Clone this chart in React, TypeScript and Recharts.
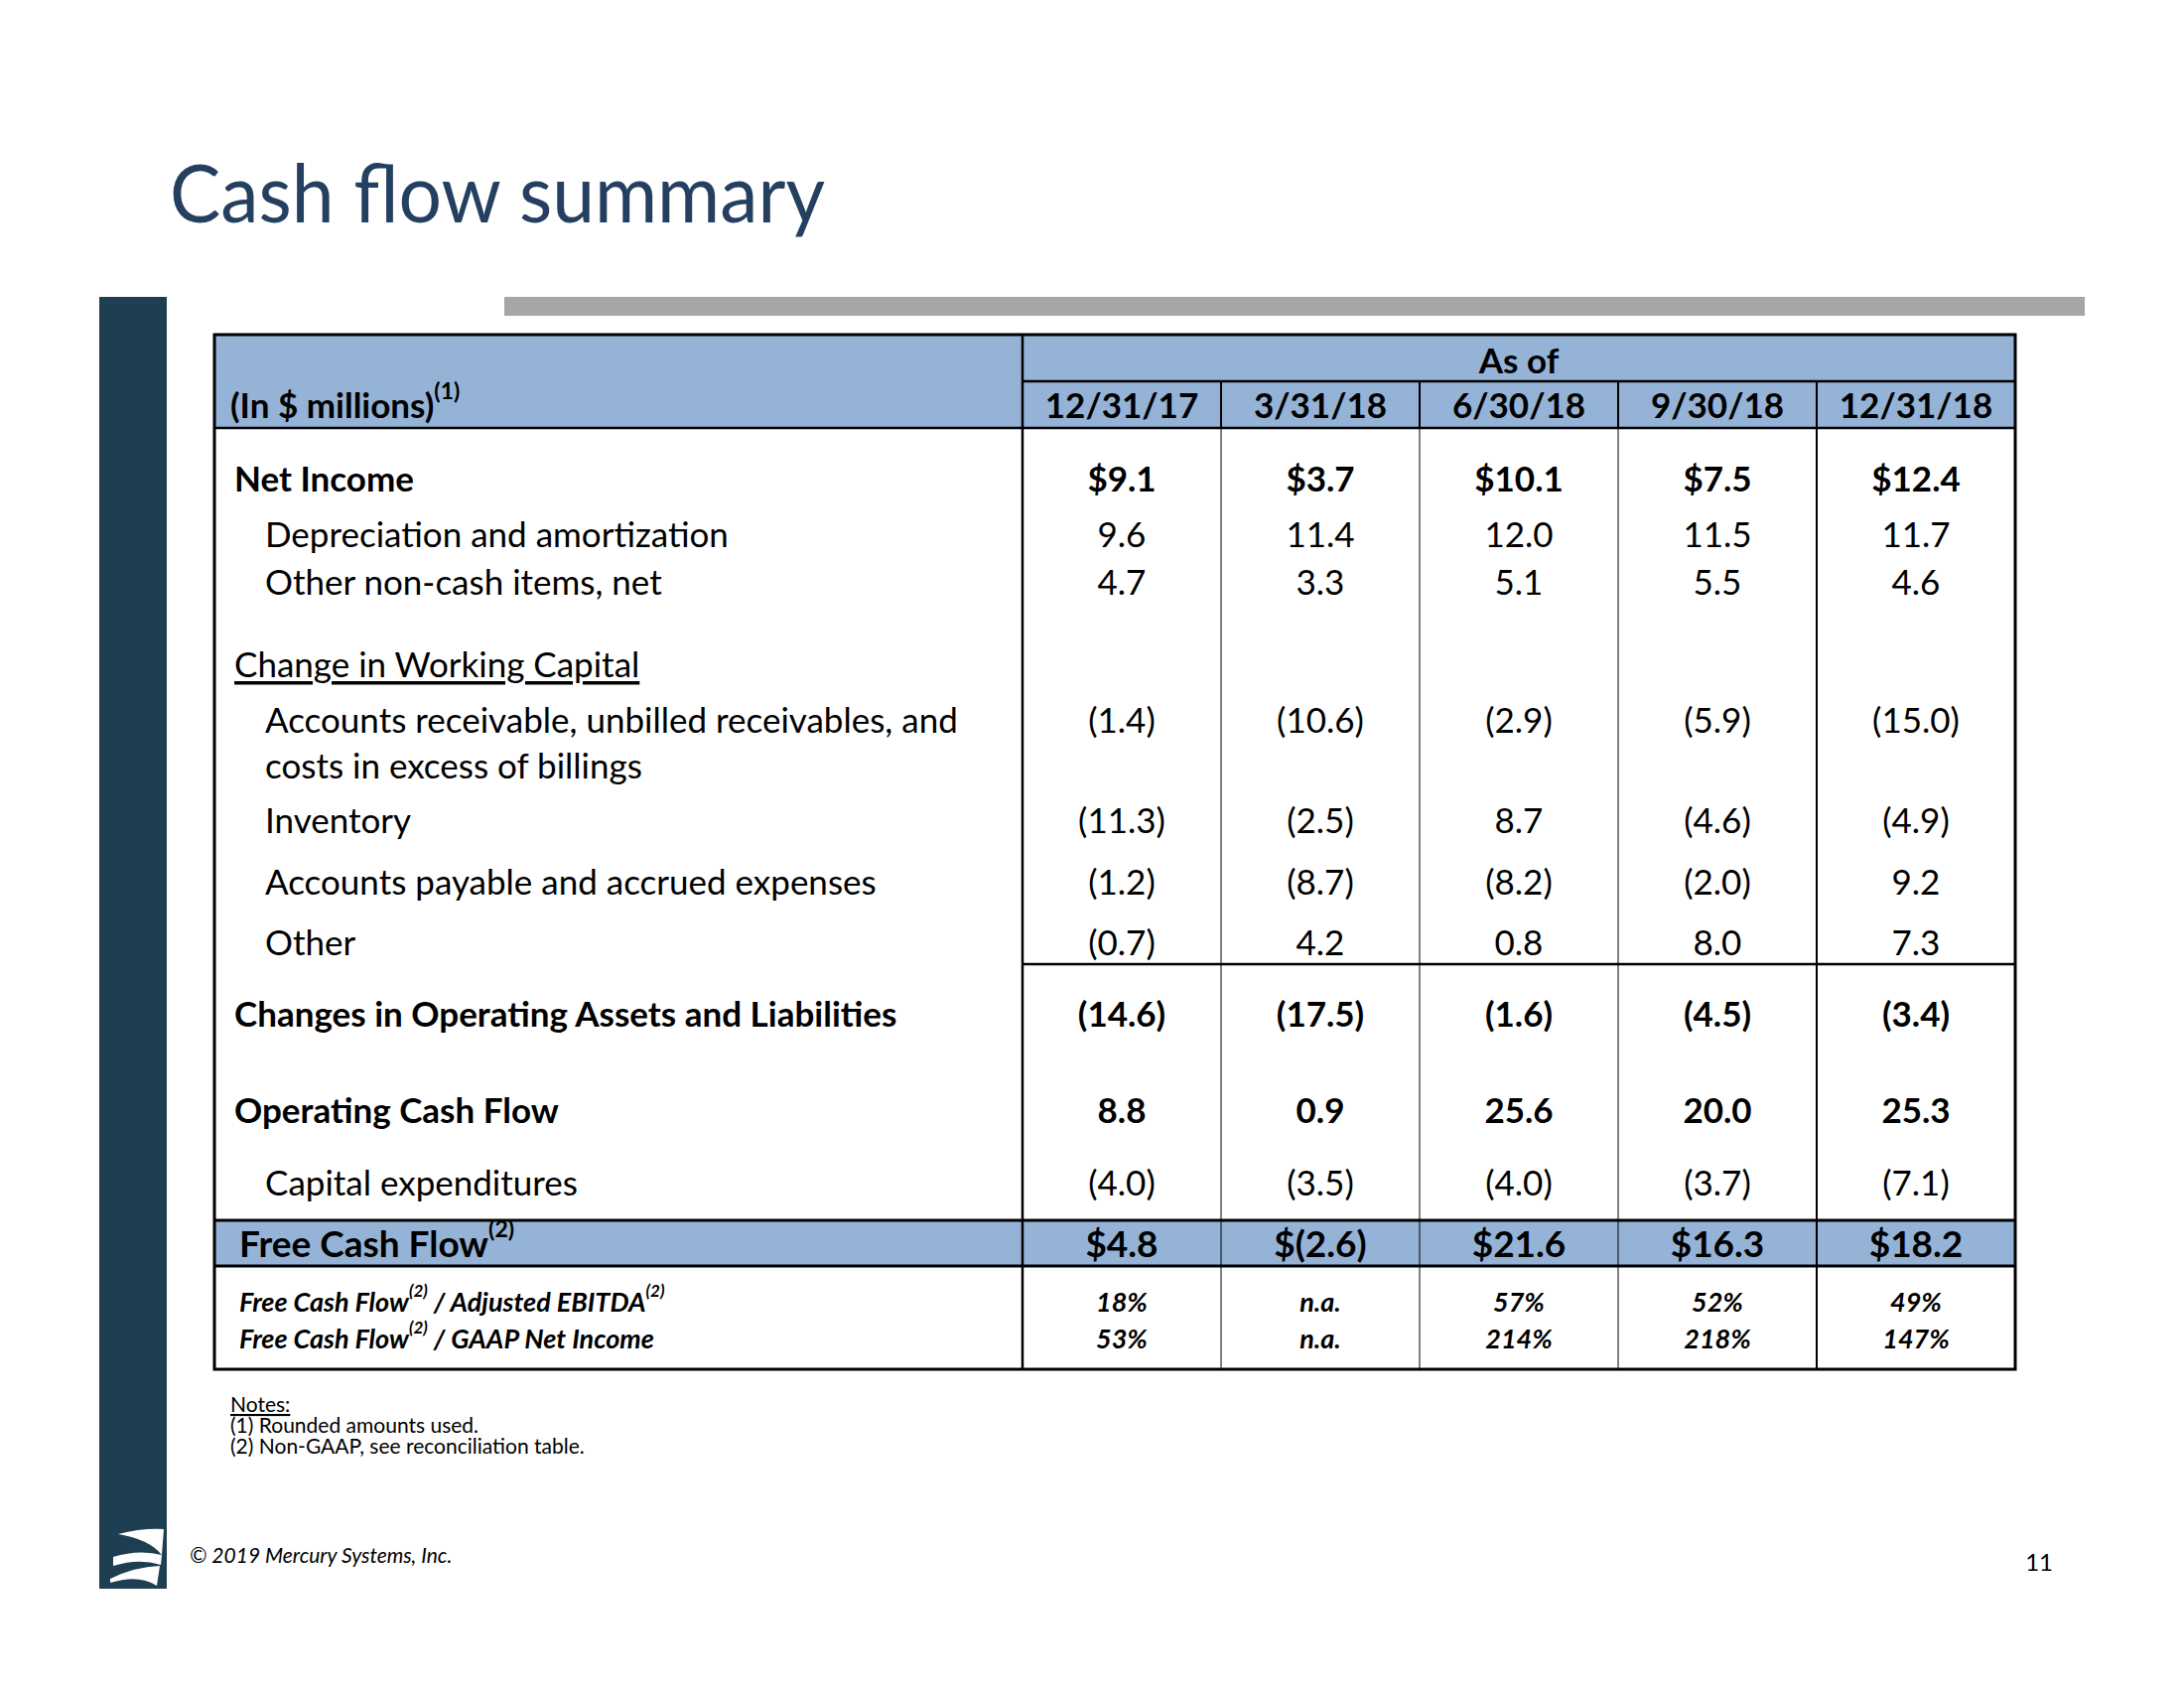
import { ScatterChart, Scatter, XAxis, YAxis, ReferenceLine } from "recharts";

// ---- data (in $ millions) ----
const DATES = ["12/31/17", "3/31/18", "6/30/18", "9/30/18", "12/31/18"];
const NET_INCOME = [9.1, 3.7, 10.1, 7.5, 12.4];
const DEPRECIATION = [9.6, 11.4, 12.0, 11.5, 11.7];
const OTHER_NON_CASH = [4.7, 3.3, 5.1, 5.5, 4.6];
const RECEIVABLES = [-1.4, -10.6, -2.9, -5.9, -15.0];
const INVENTORY = [-11.3, -2.5, 8.7, -4.6, -4.9];
const PAYABLES = [-1.2, -8.7, -8.2, -2.0, 9.2];
const OTHER_WC = [-0.7, 4.2, 0.8, 8.0, 7.3];
const CHANGES_OPERATING = [-14.6, -17.5, -1.6, -4.5, -3.4];
const OPERATING_CASH_FLOW = [8.8, 0.9, 25.6, 20.0, 25.3];
const CAPEX = [-4.0, -3.5, -4.0, -3.7, -7.1];
const FREE_CASH_FLOW = [4.8, -2.6, 21.6, 16.3, 18.2];
const FCF_TO_EBITDA: (number | null)[] = [18, null, 57, 52, 49];
const FCF_TO_NET_INCOME: (number | null)[] = [53, null, 214, 218, 147];

const money = (v: number, dollar = false) => {
  const s = Math.abs(v).toFixed(1);
  const core = v < 0 ? `(${s})` : s;
  return dollar ? `$${core}` : core;
};
const pct = (v: number | null) => (v == null ? "n.a." : `${v}%`);

type Kind = "head" | "bold" | "plain" | "ratio" | "section" | "total";

const ROWS: { key: string; label: string; kind: Kind; cells: string[] }[] = [
  { key: "head", label: "(In $ millions)(1)", kind: "head", cells: DATES },
  { key: "netIncome", label: "Net Income", kind: "bold", cells: NET_INCOME.map((v) => money(v, true)) },
  { key: "depreciation", label: "Depreciation and amortization", kind: "plain", cells: DEPRECIATION.map((v) => money(v)) },
  { key: "otherNonCash", label: "Other non-cash items, net", kind: "plain", cells: OTHER_NON_CASH.map((v) => money(v)) },
  { key: "workingCapital", label: "Change in Working Capital", kind: "section", cells: [] },
  { key: "receivables", label: "Accounts receivable, unbilled receivables, and", kind: "plain", cells: RECEIVABLES.map((v) => money(v)) },
  { key: "receivables2", label: "costs in excess of billings", kind: "plain", cells: [] },
  { key: "inventory", label: "Inventory", kind: "plain", cells: INVENTORY.map((v) => money(v)) },
  { key: "payables", label: "Accounts payable and accrued expenses", kind: "plain", cells: PAYABLES.map((v) => money(v)) },
  { key: "otherWc", label: "Other", kind: "plain", cells: OTHER_WC.map((v) => money(v)) },
  { key: "changes", label: "Changes in Operating Assets and Liabilities", kind: "bold", cells: CHANGES_OPERATING.map((v) => money(v)) },
  { key: "operatingCash", label: "Operating Cash Flow", kind: "bold", cells: OPERATING_CASH_FLOW.map((v) => money(v)) },
  { key: "capex", label: "Capital expenditures", kind: "plain", cells: CAPEX.map((v) => money(v)) },
  { key: "freeCash", label: "Free Cash Flow(2)", kind: "total", cells: FREE_CASH_FLOW.map((v) => money(v, true)) },
  { key: "fcfEbitda", label: "Free Cash Flow(2) / Adjusted EBITDA(2)", kind: "ratio", cells: FCF_TO_EBITDA.map(pct) },
  { key: "fcfNetIncome", label: "Free Cash Flow(2) / GAAP Net Income", kind: "ratio", cells: FCF_TO_NET_INCOME.map(pct) },
];

// ---- layout (px from the table's top edge) ----
const ROW_AT: Record<string, number> = {
  head: 70,
  netIncome: 144,
  depreciation: 200,
  otherNonCash: 248,
  workingCapital: 331,
  receivables: 387,
  receivables2: 433,
  inventory: 488,
  payables: 550,
  otherWc: 611,
  changes: 683,
  operatingCash: 780,
  capex: 853,
  freeCash: 914,
  fcfEbitda: 973,
  fcfNetIncome: 1010,
};
const INDENT: Record<string, number> = {
  head: 16, bold: 20, section: 20, plain: 51, ratio: 25, total: 25,
};
const SUBTOTAL_LINE = 634;
const FCF_BAND = [892, 938];

const TABLE_X = 216;
const TABLE_Y = 337;
const LABEL_W = 814;
const COL_W = 200;
const TABLE_W = LABEL_W + COL_W * DATES.length;
const TABLE_H = 1042;

const FONT = "Lato, 'Open Sans', sans-serif";
const HEAD_FILL = "#95B3D7";
const NAVY = "#243F60";

const CELLS = ROWS.flatMap((r) =>
  r.cells.map((text, i) => ({ col: DATES[i], y: ROW_AT[r.key], text, kind: r.kind }))
);

const styleFor = (kind: Kind) => ({
  fontFamily: FONT,
  fontSize: kind === "ratio" ? 27 : kind === "total" ? 37 : 35,
  fontWeight: kind === "plain" || kind === "section" ? 400 : 700,
  fontStyle: kind === "ratio" ? "italic" : "normal",
});

function rich(label: string, supSize: number) {
  return label.split(/(\(\d\))/).filter(Boolean).map((part, i) =>
    /^\(\d\)$/.test(part) ? (
      <tspan key={i} baselineShift="super" fontSize={supSize}>{part}</tspan>
    ) : (
      <tspan key={i}>{part}</tspan>
    )
  );
}

function RowLabel(props: any) {
  const { y, payload } = props;
  const row = ROWS.find((r) => ROW_AT[r.key] === payload.value);
  if (!row) return null;
  const st = styleFor(row.kind);
  return (
    <text
      x={INDENT[row.kind]}
      y={y}
      dominantBaseline="central"
      fill="#000"
      textDecoration={row.kind === "section" ? "underline" : undefined}
      {...st}
    >
      {rich(row.label, row.kind === "ratio" ? 17 : 23)}
    </text>
  );
}

function CellText(props: any) {
  const { cx, cy, payload } = props;
  return (
    <text x={cx} y={cy} textAnchor="middle" dominantBaseline="central" fill="#000" {...styleFor(payload.kind)}>
      {payload.text}
    </text>
  );
}

function Frame() {
  const colX = (i: number) => TABLE_X + LABEL_W + i * COL_W;
  const right = TABLE_X + TABLE_W;
  const y = (v: number) => TABLE_Y + v;
  return (
    <g>
      <rect x={TABLE_X} y={TABLE_Y} width={TABLE_W} height={94} fill={HEAD_FILL} />
      <rect x={TABLE_X} y={y(FCF_BAND[0])} width={TABLE_W} height={FCF_BAND[1] - FCF_BAND[0]} fill={HEAD_FILL} />
      <line x1={colX(0)} x2={right} y1={y(47)} y2={y(47)} stroke="#000" strokeWidth={2.5} />
      <line x1={TABLE_X} x2={right} y1={y(94)} y2={y(94)} stroke="#000" strokeWidth={2.5} />
      <line x1={TABLE_X} x2={right} y1={y(FCF_BAND[0])} y2={y(FCF_BAND[0])} stroke="#000" strokeWidth={3} />
      <line x1={TABLE_X} x2={right} y1={y(FCF_BAND[1])} y2={y(FCF_BAND[1])} stroke="#000" strokeWidth={3} />
      {[1, 2, 3].map((i) => (
        <g key={i}>
          <line x1={colX(i)} x2={colX(i)} y1={y(47)} y2={y(94)} stroke="#000" strokeWidth={2} />
          <line x1={colX(i)} x2={colX(i)} y1={y(94)} y2={y(TABLE_H)} stroke="#000" strokeWidth={1} />
        </g>
      ))}
      <line x1={colX(0)} x2={colX(0)} y1={TABLE_Y} y2={y(TABLE_H)} stroke="#000" strokeWidth={2.5} />
      <line x1={colX(4)} x2={colX(4)} y1={y(47)} y2={y(TABLE_H)} stroke="#000" strokeWidth={2} />
      <rect x={TABLE_X} y={TABLE_Y} width={TABLE_W} height={TABLE_H} fill="none" stroke="#000" strokeWidth={3} />
      <text x={colX(0) + (COL_W * DATES.length) / 2} y={y(25)} textAnchor="middle" dominantBaseline="central"
        fontFamily={FONT} fontSize={35} fontWeight={700}>As of</text>
    </g>
  );
}

export default function App() {
  return (
    <div style={{ position: "absolute", left: 0, top: 0, width: 2200, height: 1700, background: "#fff", overflow: "hidden" }}>
      <svg width={2200} height={1700} style={{ position: "absolute", left: 0, top: 0 }}>
        <text x={171} y={224} fontFamily={FONT} fontSize={82} fill={NAVY} textLength={660} lengthAdjust="spacingAndGlyphs">
          Cash flow summary
        </text>
        <rect x={508} y={299} width={1592} height={19} fill="#A6A6A6" />
        <rect x={100} y={299} width={68} height={1301} fill="#1D3F51" />
        <g fill="#fff">
          <path d="M119,1545 Q142,1539 165,1540 L163,1566 Q150,1550 119,1545 Z" />
          <path d="M114,1568 Q140,1560 163,1566 L162,1576 Q140,1569 114,1577 Z" />
          <path d="M111,1590 Q135,1578 161,1577 L158,1597 Q140,1585 111,1594 Z" />
        </g>
        <Frame />
        <g fontFamily={FONT} fontSize={21} fill="#000">
          <text x={232} y={1422} textDecoration="underline">Notes:</text>
          <text x={232} y={1443}>(1) Rounded amounts used.</text>
          <text x={232} y={1464}>(2) Non-GAAP, see reconciliation table.</text>
        </g>
        <text x={191} y={1574} fontFamily={FONT} fontSize={21} fontStyle="italic" fill="#000">
          © 2019 Mercury Systems, Inc.
        </text>
        <text x={2068} y={1582} textAnchor="end" fontFamily={FONT} fontSize={24} fill="#000">11</text>
      </svg>
      <div style={{ position: "absolute", left: TABLE_X, top: TABLE_Y }}>
        <ScatterChart width={TABLE_W} height={TABLE_H} margin={{ top: 0, right: 0, bottom: 0, left: 0 }}>
          <XAxis type="category" dataKey="col" allowDuplicatedCategory={false} hide />
          <YAxis
            type="number"
            dataKey="y"
            domain={[0, TABLE_H]}
            reversed
            width={LABEL_W}
            ticks={ROWS.map((r) => ROW_AT[r.key])}
            interval={0}
            axisLine={false}
            tickLine={false}
            tick={<RowLabel />}
          />
          <ReferenceLine y={SUBTOTAL_LINE} stroke="#000" strokeWidth={2.5} />
          <Scatter data={CELLS} isAnimationActive={false} shape={<CellText />} />
        </ScatterChart>
      </div>
    </div>
  );
}
